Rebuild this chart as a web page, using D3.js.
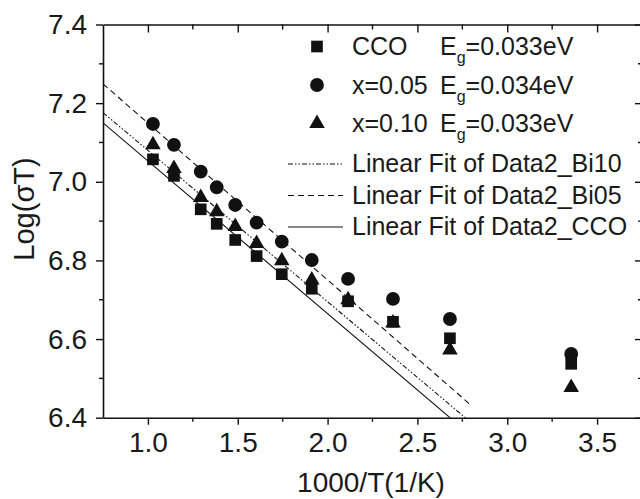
<!DOCTYPE html>
<html>
<head>
<meta charset="utf-8">
<script src="https://cdn.jsdelivr.net/npm/d3@7"></script>
<style>
  body { margin: 0; background: #fff; }
  svg { font-family: "Liberation Sans", Arial, sans-serif; }
</style>
</head>
<body>
<div id="chart"></div>
<script>
var svgWidth = 640;
var svgHeight = 499;

// 1000/T for the measured temperatures
var xValues = [1.028, 1.145, 1.294, 1.383, 1.486, 1.605, 1.745, 1.912, 2.114, 2.364, 2.681, 3.356];
var ccoValues = [7.057, 7.015, 6.930, 6.893, 6.852, 6.811, 6.765, 6.728, 6.696, 6.644, 6.602, 6.537];
var bi05Values = [7.147, 7.094, 7.026, 6.986, 6.941, 6.896, 6.848, 6.801, 6.753, 6.702, 6.651, 6.562];
var bi10Values = [7.094, 7.034, 6.960, 6.924, 6.886, 6.843, 6.799, 6.750, 6.700, 6.641, 6.572, 6.477];

// linear fits, read as end points
var fitX = [0.75, 2.8];
var fitCCO = [7.150, 6.354];
var fitBi10 = [7.176, 6.387];
var fitBi05 = [7.249, 6.431];

var xMajor = [1.0, 1.5, 2.0, 2.5, 3.0, 3.5];
var xMinor = [1.25, 1.75, 2.25, 2.75, 3.25, 3.75];
var yMajor = [6.4, 6.6, 6.8, 7.0, 7.2, 7.4];
var yMinor = [6.5, 6.7, 6.9, 7.1, 7.3];

var margin = { top: 24.5, left: 103 };
var width = 539;
var height = 393.2;

var svg = d3.select("#chart")
    .append("svg")
    .attr("width", svgWidth)
    .attr("height", svgHeight);

var chartGroup = svg.append("g")
    .attr("transform", `translate(${margin.left}, ${margin.top})`);

var xScale = d3.scaleLinear().domain([0.75, 3.75]).range([0, width]);
var yScale = d3.scaleLinear().domain([6.4, 7.4]).range([height, 0]);

chartGroup.append("clipPath")
    .attr("id", "plotclip")
    .append("rect")
    .attr("width", width)
    .attr("height", height);

// fit lines
var dashDotDot = "5,2,1.5,2,1.5,2";
var fits = [
    { y: fitCCO, dash: null },
    { y: fitBi10, dash: dashDotDot },
    { y: fitBi05, dash: "6,4" }
];
var line = d3.line()
    .x(d => xScale(d[0]))
    .y(d => yScale(d[1]));

chartGroup.append("g")
    .attr("clip-path", "url(#plotclip)")
    .selectAll("path")
    .data(fits)
    .enter()
    .append("path")
    .attr("d", d => line(fitX.map((x, i) => [x, d.y[i]])))
    .attr("fill", "none")
    .attr("stroke", "#111")
    .attr("stroke-width", 1.1)
    .attr("stroke-dasharray", d => d.dash);

// markers
var sq = d3.symbol().type(d3.symbolSquare).size(136);
var ci = d3.symbol().type(d3.symbolCircle).size(150);
var tr = d3.symbol().type(d3.symbolTriangle).size(105);

function drawSeries(values, sym) {
    chartGroup.append("g")
        .selectAll("path")
        .data(values)
        .enter()
        .append("path")
        .attr("d", sym)
        .attr("transform", (d, i) => `translate(${xScale(xValues[i])}, ${yScale(d)})`)
        .attr("fill", "#111");
}
drawSeries(bi05Values, ci);
drawSeries(ccoValues, sq);
drawSeries(bi10Values, tr);

// axes
function styleAxis(g) {
    g.select(".domain").attr("stroke", "#111").attr("stroke-width", 1.6);
    g.selectAll("line").attr("stroke", "#111").attr("stroke-width", 1.4);
    g.selectAll("text")
        .attr("font-size", "28px")
        .attr("fill", "#1a1a1a")
        .attr("font-family", "'Liberation Sans', Arial, sans-serif");
}

function minorTicks(g, vals, vertical, len) {
    g.append("g").selectAll("line").data(vals).enter().append("line")
        .attr("x1", d => vertical ? 0 : xScale(d))
        .attr("x2", d => vertical ? len : xScale(d))
        .attr("y1", d => vertical ? yScale(d) : 0)
        .attr("y2", d => vertical ? yScale(d) : len);
}

var xAxisBottom = chartGroup.append("g")
    .attr("transform", `translate(0, ${height})`)
    .call(d3.axisBottom(xScale).tickValues(xMajor).tickSize(7).tickPadding(7)
        .tickFormat(d3.format(".1f")).tickSizeOuter(0));
minorTicks(xAxisBottom, xMinor, false, 4);
styleAxis(xAxisBottom);

var yAxisLeft = chartGroup.append("g")
    .call(d3.axisLeft(yScale).tickValues(yMajor).tickSize(7).tickPadding(9)
        .tickFormat(d3.format(".1f")).tickSizeOuter(0));
minorTicks(yAxisLeft, yMinor, true, -4);
styleAxis(yAxisLeft);

var xAxisTop = chartGroup.append("g")
    .call(d3.axisBottom(xScale).tickValues(xMajor).tickSize(8).tickFormat("").tickSizeOuter(0));
minorTicks(xAxisTop, xMinor, false, 5);
styleAxis(xAxisTop);

var yAxisRight = chartGroup.append("g")
    .attr("transform", `translate(${width}, 0)`)
    .call(d3.axisRight(yScale).tickValues(yMajor).tickSize(-7).tickFormat("").tickSizeOuter(0));
minorTicks(yAxisRight, yMinor, true, -4);
styleAxis(yAxisRight);

// axis titles
svg.append("text")
    .attr("x", 371)
    .attr("y", 492)
    .attr("text-anchor", "middle")
    .attr("font-size", "28px")
    .attr("fill", "#1a1a1a")
    .text("1000/T(1/K)");

svg.append("text")
    .attr("transform", "translate(34, 209) rotate(-90)")
    .attr("text-anchor", "middle")
    .attr("font-size", "29px")
    .attr("fill", "#1a1a1a")
    .text("Log(σT)");

// legend
var legendSymbols = [
    { sym: sq, label: "CCO", eg: "=0.033eV", y: 55 },
    { sym: ci, label: "x=0.05", eg: "=0.034eV", y: 93.5 },
    { sym: tr, label: "x=0.10", eg: "=0.033eV", y: 132 }
];
var legendLines = [
    { dash: dashDotDot, label: "Linear Fit of Data2_Bi10", y: 172 },
    { dash: "6,4", label: "Linear Fit of Data2_Bi05", y: 203.5 },
    { dash: null, label: "Linear Fit of Data2_CCO", y: 235 }
];

var legend = svg.append("g").attr("font-size", "25px").attr("fill", "#1a1a1a");

legendSymbols.forEach(function (d) {
    legend.append("path")
        .attr("d", d.sym)
        .attr("transform", `translate(317, ${d.y - 8.5})`)
        .attr("fill", "#111");
    var t = legend.append("text").attr("x", 352).attr("y", d.y);
    t.append("tspan").text(d.label);
    t.append("tspan").attr("x", 440).text("E");
    t.append("tspan").attr("dy", 8).attr("font-size", "16px").text("g");
    t.append("tspan").attr("dy", -8).text(d.eg);
});

legendLines.forEach(function (d) {
    legend.append("line")
        .attr("x1", 288).attr("x2", 343)
        .attr("y1", d.y - 8).attr("y2", d.y - 8)
        .attr("stroke", "#111")
        .attr("stroke-width", 1.1)
        .attr("stroke-dasharray", d.dash);
    legend.append("text").attr("x", 352).attr("y", d.y).text(d.label);
});
</script>
</body>
</html>
